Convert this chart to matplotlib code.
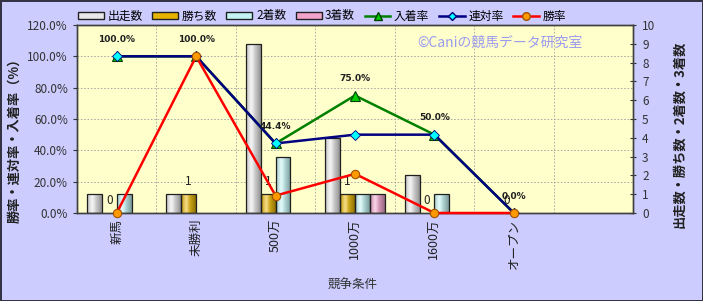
import numpy as np
import matplotlib
matplotlib.use('Agg')
import matplotlib.pyplot as plt
from matplotlib.colors import to_rgb
from matplotlib.patches import Patch
from matplotlib.lines import Line2D

plt.rcParams['font.family'] = ['Noto Sans CJK JP', 'DejaVu Sans']

categories = ['新馬', '未勝利', '500万', '1000万', '1600万', 'オープン']
starts = [1, 1, 9, 4, 2, 0]
wins = [0, 1, 1, 1, 0, 0]
seconds = [1, 0, 3, 1, 1, 0]
thirds = [0, 0, 0, 1, 0, 0]
win_rate = [0.0, 100.0, 11.1, 25.0, 0.0, 0.0]
rentai_rate = [100.0, 100.0, 44.4, 50.0, 50.0, 0.0]
nyuchaku_rate = [100.0, 100.0, 44.4, 75.0, 50.0, 0.0]

fig = plt.figure(figsize=(7.03, 3.01), dpi=100)
fig.patch.set_facecolor('#CCCCFF')
fig.patch.set_edgecolor('#333344')
fig.patch.set_linewidth(2)

ax = fig.add_axes([77/703, 1-213/301, (633-77)/703, (213-25)/301])
ax2 = ax.twinx()
ax2.set_zorder(ax.get_zorder() - 1)
ax.patch.set_visible(False)
ax2.patch.set_facecolor('#FFFFCC')
ax2.patch.set_visible(True)

x = np.arange(len(categories))
w = 0.1875
ymax_cnt = 10
ymax_pct = 120

# grid on background axis
for p in np.arange(20, 120, 20):
    ax2.axhline(p / ymax_pct * ymax_cnt, color='#A0A0A0', lw=0.6, ls=(0, (2, 2)), zorder=0.5)
for b in np.arange(0.5, 6.0, 1.0):
    ax2.axvline(b, color='#A0A0A0', lw=0.6, ls=(0, (2, 2)), zorder=0.5)

bar_colors = ['#E8E8E8', '#E6B400', '#C4F4F4', '#F0A4CC']

def grad_bar(axis, xc, h, width, color):
    if h <= 0:
        return
    rect = axis.bar(xc, h, width, color=color, edgecolor='none', zorder=2)[0]
    n = 64
    t = np.linspace(0, 1, n)
    base = np.array(to_rgb(color))
    f = np.interp(t, [0, 0.35, 1], [0.78, 1.0, 0.62])
    hl = np.interp(t, [0, 0.35, 0.6, 1], [0.0, 0.55, 0.1, 0.0])
    arr = base[None, :] * f[:, None]
    arr = arr * (1 - hl[:, None]) + hl[:, None]
    arr = np.clip(arr, 0, 1)
    im = axis.imshow(arr[None, :, :], extent=[xc - width/2, xc + width/2, 0, h],
                     aspect='auto', zorder=2.1, interpolation='bilinear')
    im.set_clip_path(rect)
    axis.bar(xc, h, width, fill=False, edgecolor='#202020', lw=0.9, zorder=2.2)

series = [starts, wins, seconds, thirds]
offsets = [-1.5, -0.5, 0.5, 1.5]
for vals, off, col in zip(series, offsets, bar_colors):
    for xi, v in zip(x, vals):
        grad_bar(ax2, xi + off * w, v, w, col)

for xi, v in zip(x, wins):
    ax2.annotate(str(v), (xi - 0.5 * w, v), xytext=(0, 9), textcoords='offset points',
                 ha='center', va='center', fontsize=8.5, color='#202020', zorder=5)

ax2.set_xlim(-0.5, 6.5)
ax2.set_ylim(0, ymax_cnt)
ax2.set_yticks(range(0, 11))
ax2.tick_params(axis='y', direction='inout', length=5, labelsize=8.5, labelcolor='#333333', color='#333333', pad=4)

# lines
ax.plot(x, nyuchaku_rate, color='#008000', lw=1.8, marker='^', ms=6.5,
        mfc='#00CC00', mec='#004000', mew=0.8, zorder=3)
ax.plot(x, rentai_rate, color='#000080', lw=1.8, marker='D', ms=5,
        mfc='#00FFFF', mec='#000080', mew=0.6, zorder=3.1)
ax.plot(x, win_rate, color='#FF0000', lw=1.8, marker='o', ms=6,
        mfc='#FF9900', mec='#A05000', mew=0.8, zorder=3.2, clip_on=False)

for xi, v in zip(x, nyuchaku_rate):
    ax.annotate(f'{v:.1f}%', (xi, v), xytext=(0, 12), textcoords='offset points',
                ha='center', va='center', fontsize=6.5, fontweight='bold', color='#202020',
                family='DejaVu Sans', zorder=6)

ax.set_xlim(-0.5, 6.5)
ax.set_ylim(0, ymax_pct)
ax.set_yticks(np.arange(0, 121, 20))
ax.set_yticklabels([f'{v:.1f}%' for v in np.arange(0, 121, 20)])
ax.tick_params(axis='y', direction='out', length=3, labelsize=8.5, labelcolor='#333333', color='#333333')
ax.set_xticks(x)
ax.set_xticklabels(categories, rotation=90, fontsize=9, color='#202020')
ax.tick_params(axis='x', length=0, pad=4)
ax2.tick_params(axis='x', length=0)

for sp in ax.spines.values():
    sp.set_color('#404040')
    sp.set_linewidth(1)
for sp in ax2.spines.values():
    sp.set_color('#404040')
    sp.set_linewidth(1)

fig.text(14/703, 1 - 137/301, '勝率・連対率・入着率（%）', rotation=90, ha='center', va='center',
         fontsize=9.5, fontweight='bold', color='#202020')
fig.text(679/703, 1 - 134/301, '出走数・勝ち数・2着数・3着数', rotation=90, ha='center', va='center',
         fontsize=9.5, fontweight='bold', color='#202020')
fig.text(353/703, 1 - 285/301, '競争条件', ha='center', va='center', fontsize=9, color='#333333')
fig.text(500/703, 1 - 43/301, '©Caniの競馬データ研究室', ha='center', va='center',
         fontsize=10, color='#9A9AF0')

handles = [
    Patch(facecolor=bar_colors[0], edgecolor='#202020', label='出走数'),
    Patch(facecolor=bar_colors[1], edgecolor='#202020', label='勝ち数'),
    Patch(facecolor=bar_colors[2], edgecolor='#202020', label='2着数'),
    Patch(facecolor=bar_colors[3], edgecolor='#202020', label='3着数'),
    Line2D([], [], color='#008000', lw=1.8, marker='^', ms=6, mfc='#00CC00', mec='#004000', label='入着率'),
    Line2D([], [], color='#000080', lw=1.8, marker='D', ms=4.5, mfc='#00FFFF', mec='#000080', label='連対率'),
    Line2D([], [], color='#FF0000', lw=1.8, marker='o', ms=5.5, mfc='#FF9900', mec='#A05000', label='勝率'),
]
fig.legend(handles=handles, loc='center', bbox_to_anchor=(322/703, 1 - 16/301), ncol=7,
           frameon=False, fontsize=8.5, handlelength=2.2, handleheight=0.6,
           columnspacing=0.8, handletextpad=0.3, borderaxespad=0)

fig.savefig('out.png', dpi=100, facecolor=fig.get_facecolor(), edgecolor=fig.get_edgecolor())
